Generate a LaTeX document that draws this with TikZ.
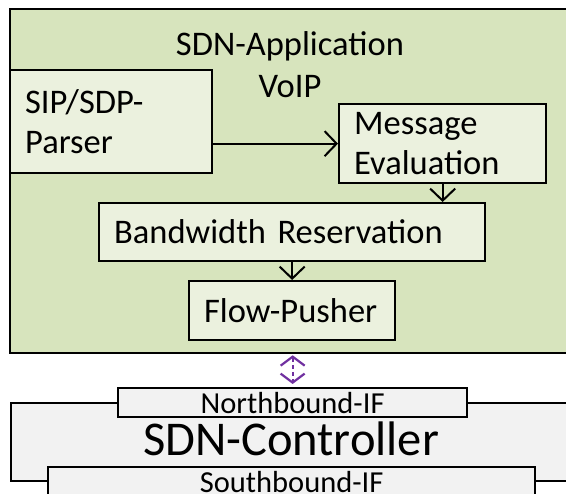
\documentclass[tikz,border=0pt]{standalone}
\usepackage{fontspec}
\setmainfont{Carlito}
\usetikzlibrary{arrows.meta}
\definecolor{appgreen}{HTML}{D7E4BD}
\definecolor{boxgreen}{HTML}{EBF1DE}
\definecolor{ctrlgray}{HTML}{F2F2F2}
\definecolor{ifpurple}{HTML}{7030A0}
\begin{document}
\begin{tikzpicture}[x=1pt,y=-1pt,
  frame/.style={draw=black, line width=2.3pt, rectangle, inner sep=0pt, anchor=north west},
  module/.style={frame, fill=boxgreen, align=left, inner xsep=15pt,
    font=\fontsize{34.5}{40}\selectfont},
  flowarrow/.style={line width=2pt,
    -{Straight Barb[length=12pt,width=25pt,line width=2pt]}},
  ifarrow/.style={draw=ifpurple, line width=2.2pt, dash pattern=on 4pt off 3pt,
    {Straight Barb[length=9pt,width=24pt,line width=2.2pt]}-{Straight Barb[length=9pt,width=24pt,line width=2.2pt]}},
  iflabel/.style={font=\fontsize{30.5}{34}\selectfont, inner sep=0pt}]
\useasboundingbox (0,0) rectangle (566,494);
\clip (0,0) rectangle (566,494);

% application layer
\node[frame, fill=appgreen, minimum width=600pt, minimum height=344pt] (app) at (9,8) {};
\node[font=\fontsize{34.5}{42}\selectfont, align=center, inner sep=0pt, anchor=north] (apptitle) at (290,31) {SDN-Application\\VoIP};

\node[module, minimum width=202pt, minimum height=103pt, text width=172pt] (parser) at (9,69) {SIP/SDP-\\Parser};
\node[module, minimum width=207pt, minimum height=79pt, text width=177pt] (msg) at (338,103) {Message\\Evaluation};
\node[module, minimum width=386pt, minimum height=58pt, text width=356pt] (bw) at (98,202) {Bandwidth Reservation};
\node[module, minimum width=206pt, minimum height=59pt, text width=176pt] (flow) at (188,280) {Flow-Pusher};

\draw[flowarrow] (parser.east |- msg.west) -- (msg.west);
\draw[flowarrow] (msg.south) -- (msg.south |- bw.north);
\draw[flowarrow] (bw.south) -- (flow.north);

% controller with its interfaces
\node[frame, fill=ctrlgray, minimum width=600pt, minimum height=78pt] (ctrl) at (10,402) {};
\node[font=\fontsize{48.5}{54}\selectfont, inner sep=0pt] (ctrltext) at (291,439) {SDN-Controller};
\node[frame, fill=ctrlgray, minimum width=349pt, minimum height=29pt] (north) at (117,387) {};
\node[iflabel] (northtext) at (north.center) {Northbound-IF};
\node[frame, fill=ctrlgray, minimum width=487pt, minimum height=30pt] (south) at (47,466) {};
\node[iflabel] (southtext) at (south.center) {Southbound-IF};

\draw[ifarrow, shorten <=1pt, shorten >=3pt] (north.north |- app.south) -- (north.north);
\end{tikzpicture}
\end{document}
